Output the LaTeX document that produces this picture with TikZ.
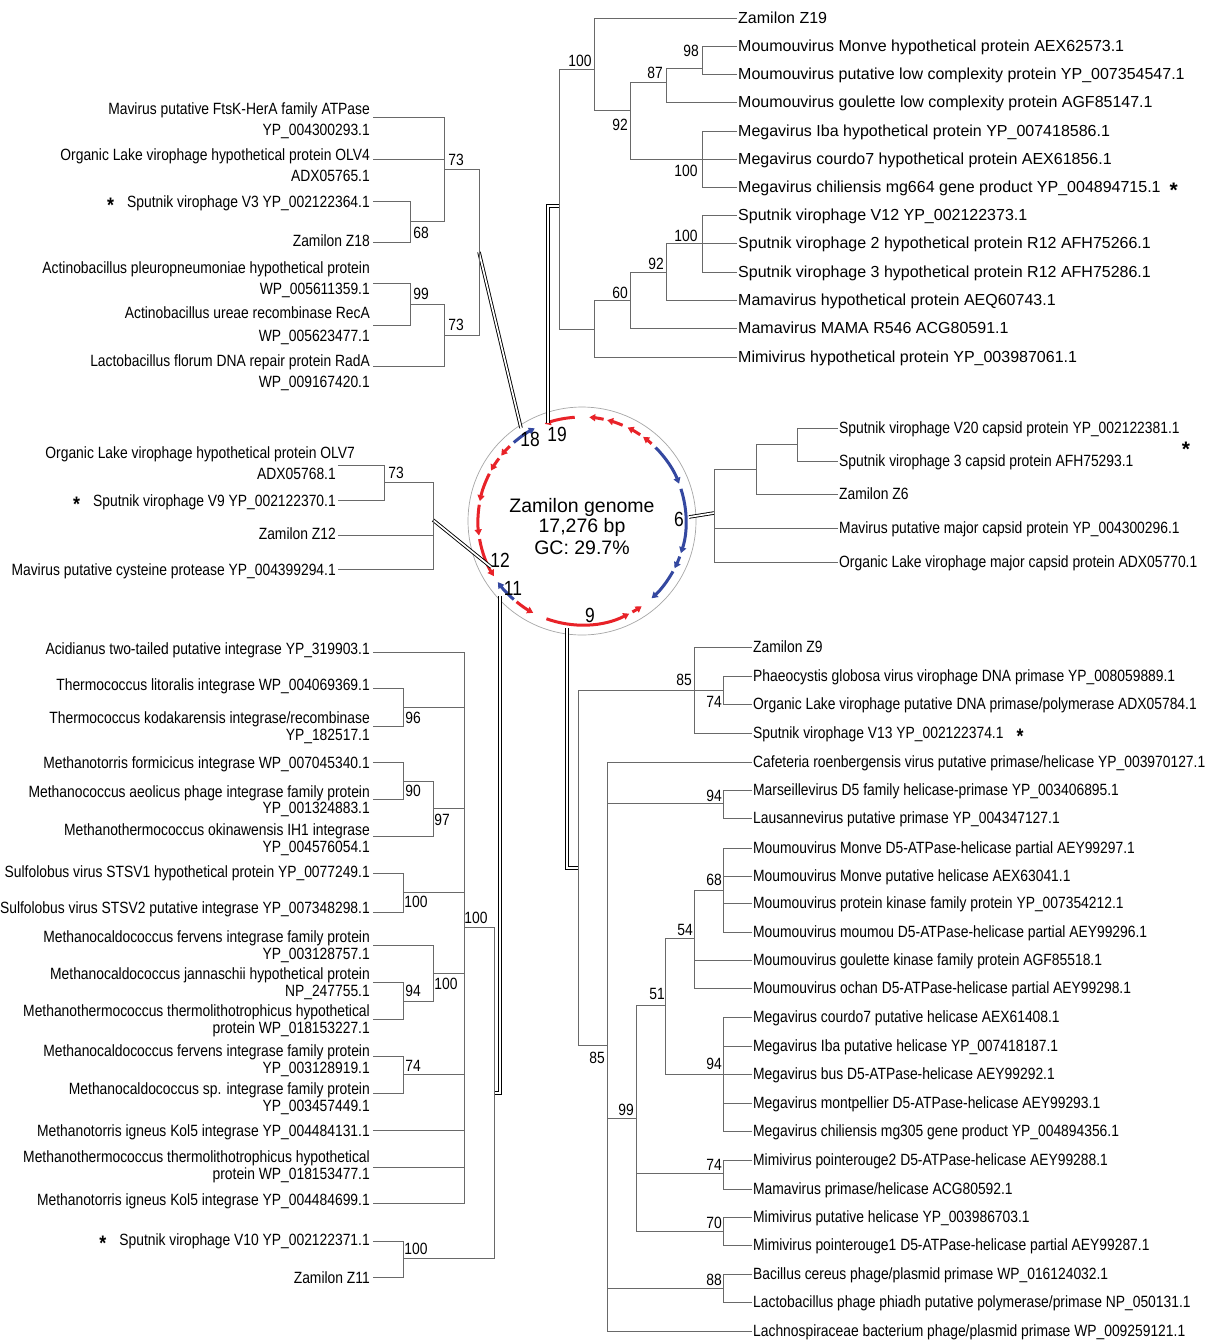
\documentclass[tikz,border=0pt]{standalone}
\usepackage{fontspec}
\setmainfont{Liberation Sans}
\newfontfamily\nar[FakeStretch=0.85]{Liberation Sans}
\usetikzlibrary{arrows.meta}
\definecolor{genred}{RGB}{232,34,40}
\definecolor{geneblue}{RGB}{52,72,160}
\definecolor{branch}{RGB}{105,105,105}
% tree branch helpers: horizontal (x1,x2 at y) and vertical (x, y1..y2)
\newcommand\brH[3]{\draw[br] (#1,#3) -- (#2,#3);}
\newcommand\brV[3]{\draw[br] (#1,#2) -- (#1,#3);}
\newcommand\sstar{\raisebox{-5pt}{\fontsize{21}{21}\selectfont\bfseries *}}
\begin{document}
\begin{tikzpicture}[x=1pt,y=-1pt,
  br/.style={draw=branch, line width=1pt, line cap=rect},
  dbl/.style={draw=black, line width=0.9pt, double=white, double distance=1.7pt},
  lab/.style={font=\nar\fontsize{16.3}{18}\selectfont, inner xsep=2pt, inner ysep=0pt,
              text height=11.7pt, text depth=0pt},
  trl/.style={font=\fontsize{16}{18}\selectfont, inner xsep=2pt, inner ysep=0pt,
              text height=11.5pt, text depth=0pt},
  bs/.style={font=\nar\fontsize{16.3}{18}\selectfont, inner sep=0pt},
  cnum/.style={font=\nar\fontsize{20.5}{22}\selectfont, inner sep=0pt},
  ctr/.style={font=\fontsize{19.5}{21}\selectfont, inner sep=0pt},
  ring/.style={draw=black!35, line width=0.7pt},
  gr/.style={draw=genred, line width=3pt, -{Triangle[length=6pt,width=7pt]}},
  gb/.style={draw=geneblue, line width=3pt, -{Triangle[length=6pt,width=7pt]}}]
\useasboundingbox (0,0) rectangle (1211,1342);
\fill[white] (0,0) rectangle (1211,1342);

% ---------------- genome map ----------------
\begin{scope}[shift={(582,521)}, y=1pt]
  \draw[ring] (0,0) circle[radius=114];
  \draw[gb] (131:104) arc[start angle=131, end angle=117, radius=104];
  \draw[gr] (94:104) arc[start angle=94, end angle=111, radius=104];
  \draw[gr] (78:104) arc[start angle=78, end angle=86, radius=104];
  \draw[gr] (67:104) arc[start angle=67, end angle=76, radius=104];
  \draw[gr] (56:104) arc[start angle=56, end angle=64, radius=104];
  \draw[gr] (48:104) arc[start angle=48, end angle=54, radius=104];
  \draw[gb] (45:104) arc[start angle=45, end angle=21, radius=104];
  \draw[gb] (18:104) arc[start angle=18, end angle=-18, radius=104];
  \draw[gb] (-20:104) arc[start angle=-20, end angle=-27, radius=104];
  \draw[gb] (-29:104) arc[start angle=-29, end angle=-48, radius=104];
  \draw[gr] (-61:104) arc[start angle=-61, end angle=-55, radius=104];
  \draw[gr] (-110:104) arc[start angle=-110, end angle=-63, radius=104];
  \draw[gr] (-129:104) arc[start angle=-129, end angle=-118, radius=104];
  \draw[gb] (-131:104) arc[start angle=-131, end angle=-144, radius=104];
  \draw[gr] (190:104) arc[start angle=190, end angle=212, radius=104];
  \draw[gr] (171:104) arc[start angle=171, end angle=188, radius=104];
  \draw[gr] (153:104) arc[start angle=153, end angle=169, radius=104];
  \draw[gr] (143:104) arc[start angle=143, end angle=151, radius=104];
  \draw[gr] (134:104) arc[start angle=134, end angle=141, radius=104];
\end{scope}
\node[ctr, anchor=base] (g1) at (582,512) {Zamilon genome};
\node[ctr, anchor=base] (g2) at (582,532) {17,276 bp};
\node[ctr, anchor=base] (g3) at (582,554) {GC: 29.7\%};
\node[cnum] (n18) at (530,439) {18};
\node[cnum] (n19) at (557,434) {19};
\node[cnum] (n6) at (679,519) {6};
\node[cnum] (n12) at (500,560) {12};
\node[cnum] (n11) at (513,588) {11};
\node[cnum] (n9) at (590,615) {9};

% connector ends on the map and on the tree roots
\coordinate (cTL) at (521,428); \coordinate (rTL) at (479,252);
\coordinate (cTR) at (548,423); \coordinate (rTR) at (559,206);
\coordinate (cML) at (491,567); \coordinate (rML) at (433,520);
\coordinate (cMR) at (689,517); \coordinate (rMR) at (714,513);
\coordinate (cBL) at (500,596); \coordinate (rBL) at (494,1093);
\coordinate (cBR) at (567,628); \coordinate (rBR) at (578,868);
\draw[dbl] (rTL) -- (cTL);
\draw[dbl] (cTR) |- (rTR);
\draw[dbl] (rML) -- (cML);
\draw[dbl] (rMR) -- (cMR);
\draw[dbl] (cBL) |- (rBL);
\draw[dbl] (cBR) |- (rBR);

% ---------------- Z19 tree (top right) ----------------
\node[trl, anchor=west] (t01) at (736,18) {Zamilon Z19};
\node[trl, anchor=west] (t02) at (736,46) {Moumouvirus Monve hypothetical protein AEX62573.1};
\node[trl, anchor=west] (t03) at (736,74) {Moumouvirus putative low complexity protein YP\_007354547.1};
\node[trl, anchor=west] (t04) at (736,102) {Moumouvirus goulette low complexity protein AGF85147.1};
\node[trl, anchor=west] (t05) at (736,131) {Megavirus Iba hypothetical protein YP\_007418586.1};
\node[trl, anchor=west] (t06) at (736,159) {Megavirus courdo7 hypothetical protein AEX61856.1};
\node[trl, anchor=west] (t07) at (736,187) {Megavirus chiliensis mg664 gene product YP\_004894715.1\hspace{9pt}\sstar};
\node[trl, anchor=west] (t08) at (736,215) {Sputnik virophage V12 YP\_002122373.1};
\node[trl, anchor=west] (t09) at (736,243) {Sputnik virophage 2 hypothetical protein R12 AFH75266.1};
\node[trl, anchor=west] (t10) at (736,272) {Sputnik virophage 3 hypothetical protein R12 AFH75286.1};
\node[trl, anchor=west] (t11) at (736,300) {Mamavirus hypothetical protein AEQ60743.1};
\node[trl, anchor=west] (t12) at (736,328) {Mamavirus MAMA R546 ACG80591.1};
\node[trl, anchor=west] (t13) at (736,357) {Mimivirus hypothetical protein YP\_003987061.1};
\brV{559}{69}{329} \brH{559}{594}{69} \brH{559}{594}{329}
\brV{594}{18}{110} \draw[br] (594,18) -- (t01.west); \brH{594}{630}{110}
\brV{630}{82}{159} \brH{630}{666}{82} \brH{630}{702}{159}
\brV{666}{68}{102} \brH{666}{702}{68} \draw[br] (666,102) -- (t04.west);
\brV{702}{46}{74} \draw[br] (702,46) -- (t02.west); \draw[br] (702,74) -- (t03.west);
\brV{702}{131}{187} \draw[br] (702,131) -- (t05.west); \draw[br] (702,159) -- (t06.west); \draw[br] (702,187) -- (t07.west);
\brV{594}{300}{357} \brH{594}{630}{300} \draw[br] (594,357) -- (t13.west);
\brV{630}{272}{328} \brH{630}{666}{272} \draw[br] (630,328) -- (t12.west);
\brV{666}{243}{300} \brH{666}{702}{243} \draw[br] (666,300) -- (t11.west);
\brV{702}{215}{272} \draw[br] (702,215) -- (t08.west); \draw[br] (702,243) -- (t09.west); \draw[br] (702,272) -- (t10.west);
\node[bs] (b01) at (580,61) {100};
\node[bs] (b02) at (620,125) {92};
\node[bs] (b03) at (655,73) {87};
\node[bs] (b04) at (691,51) {98};
\node[bs] (b05) at (686,171) {100};
\node[bs] (b06) at (686,236) {100};
\node[bs] (b07) at (656,264) {92};
\node[bs] (b08) at (620,293) {60};

% ---------------- Z18 tree (top left) ----------------
\node[lab, anchor=east] (l01) at (372,109) {Mavirus putative FtsK-HerA family ATPase};
\node[lab, anchor=east] (l01b) at (372,130) {YP\_004300293.1};
\node[lab, anchor=east] (l02) at (372,155) {Organic Lake virophage hypothetical protein OLV4};
\node[lab, anchor=east] (l02b) at (372,176) {ADX05765.1};
\node[lab, anchor=east] (l03) at (372,202) {\sstar\hspace{13pt}Sputnik virophage V3 YP\_002122364.1};
\node[lab, anchor=east] (l04) at (372,241) {Zamilon Z18};
\node[lab, anchor=east] (l05) at (372,268) {Actinobacillus pleuropneumoniae hypothetical protein};
\node[lab, anchor=east] (l05b) at (372,289) {WP\_005611359.1};
\node[lab, anchor=east] (l06) at (372,313) {Actinobacillus ureae recombinase RecA};
\node[lab, anchor=east] (l06b) at (372,336) {WP\_005623477.1};
\node[lab, anchor=east] (l07) at (372,361) {Lactobacillus florum DNA repair protein RadA};
\node[lab, anchor=east] (l07b) at (372,382) {WP\_009167420.1};
\brV{444}{117}{221} \brH{373}{444}{117} \brH{373}{444}{159}
\brV{410}{201}{242} \brH{373}{410}{201} \brH{373}{410}{242} \brH{410}{444}{221}
\brV{410}{283}{325} \brH{373}{410}{283} \brH{373}{410}{325} \brH{410}{444}{304}
\brV{444}{304}{366} \brH{373}{444}{366}
\brH{444}{479}{169} \brH{444}{479}{335} \brV{479}{169}{335}
\node[bs] (b09) at (456,160) {73};
\node[bs] (b10) at (421,233) {68};
\node[bs] (b11) at (421,294) {99};
\node[bs] (b12) at (456,325) {73};

% ---------------- Z12 tree (middle left) ----------------
\node[lab, anchor=east] (m01) at (357,453) {Organic Lake virophage hypothetical protein OLV7};
\node[lab, anchor=east] (m01b) at (338,474) {ADX05768.1};
\node[lab, anchor=east] (m02) at (338,501) {\sstar\hspace{13pt}Sputnik virophage V9 YP\_002122370.1};
\node[lab, anchor=east] (m03) at (338,534) {Zamilon Z12};
\node[lab, anchor=east] (m04) at (338,570) {Mavirus putative cysteine protease YP\_004399294.1};
\brV{384}{465}{500} \brH{338}{384}{465} \brH{338}{384}{500} \brH{384}{433}{482}
\brH{338}{433}{535} \brH{338}{433}{569} \brV{433}{482}{569}
\node[bs] (b13) at (396,473) {73};

% ---------------- Z6 tree (middle right) ----------------
\node[lab, anchor=west] (r01) at (837,428) {Sputnik virophage V20 capsid protein YP\_002122381.1};
\node[lab, anchor=west] (r02) at (837,461) {Sputnik virophage 3 capsid protein AFH75293.1};
\node[lab, anchor=west] (r03) at (837,494) {Zamilon Z6};
\node[lab, anchor=west] (r04) at (837,528) {Mavirus putative major capsid protein YP\_004300296.1};
\node[lab, anchor=west] (r05) at (837,562) {Organic Lake virophage major capsid protein ADX05770.1};
\node[trl, inner sep=0pt, text height=, text depth=] (rst) at (1186,449) {\sstar};
\brV{797}{428}{461} \draw[br] (797,428) -- (r01.west); \draw[br] (797,461) -- (r02.west);
\brH{756}{797}{444} \brV{756}{444}{494} \draw[br] (756,494) -- (r03.west);
\brH{714}{756}{469} \brV{714}{469}{562} \draw[br] (714,528) -- (r04.west); \draw[br] (714,562) -- (r05.west);

% ---------------- Z11 tree (bottom left) ----------------
\node[lab, anchor=east] (s01) at (372,649) {Acidianus two-tailed putative integrase YP\_319903.1};
\node[lab, anchor=east] (s02) at (372,685) {Thermococcus litoralis integrase WP\_004069369.1};
\node[lab, anchor=east] (s03) at (372,718) {Thermococcus kodakarensis integrase/recombinase};
\node[lab, anchor=east] (s03b) at (372,735) {YP\_182517.1};
\node[lab, anchor=east] (s04) at (372,763) {Methanotorris formicicus integrase WP\_007045340.1};
\node[lab, anchor=east] (s05) at (372,792) {Methanococcus aeolicus phage integrase family protein};
\node[lab, anchor=east] (s05b) at (372,808) {YP\_001324883.1};
\node[lab, anchor=east] (s06) at (372,830) {Methanothermococcus okinawensis IH1 integrase};
\node[lab, anchor=east] (s06b) at (372,847) {YP\_004576054.1};
\node[lab, anchor=east] (s07) at (372,872) {Sulfolobus virus STSV1 hypothetical protein YP\_0077249.1};
\node[lab, anchor=east] (s08) at (372,908) {Sulfolobus virus STSV2 putative integrase YP\_007348298.1};
\node[lab, anchor=east] (s09) at (372,937) {Methanocaldococcus fervens integrase family protein};
\node[lab, anchor=east] (s09b) at (372,954) {YP\_003128757.1};
\node[lab, anchor=east] (s10) at (372,974) {Methanocaldococcus jannaschii hypothetical protein};
\node[lab, anchor=east] (s10b) at (372,991) {NP\_247755.1};
\node[lab, anchor=east] (s11) at (372,1011) {Methanothermococcus thermolithotrophicus hypothetical};
\node[lab, anchor=east] (s11b) at (372,1028) {protein WP\_018153227.1};
\node[lab, anchor=east] (s12) at (372,1051) {Methanocaldococcus fervens integrase family protein};
\node[lab, anchor=east] (s12b) at (372,1068) {YP\_003128919.1};
\node[lab, anchor=east] (s13) at (372,1089) {Methanocaldococcus sp. integrase family protein};
\node[lab, anchor=east] (s13b) at (372,1106) {YP\_003457449.1};
\node[lab, anchor=east] (s14) at (372,1131) {Methanotorris igneus Kol5 integrase YP\_004484131.1};
\node[lab, anchor=east] (s15) at (372,1157) {Methanothermococcus thermolithotrophicus hypothetical};
\node[lab, anchor=east] (s15b) at (372,1174) {protein WP\_018153477.1};
\node[lab, anchor=east] (s16) at (372,1200) {Methanotorris igneus Kol5 integrase YP\_004484699.1};
\node[lab, anchor=east] (s17) at (372,1240) {\sstar\hspace{13pt}Sputnik virophage V10 YP\_002122371.1};
\node[lab, anchor=east] (s18) at (372,1278) {Zamilon Z11};
\brV{464}{652}{1203}
\brH{373}{464}{652} \brH{373}{464}{1130} \brH{373}{464}{1167} \brH{373}{464}{1203}
\brV{403}{688}{726} \brH{373}{403}{688} \brH{373}{403}{726} \brH{403}{464}{707}
\brV{403}{762}{799} \brH{373}{403}{762} \brH{373}{403}{799} \brH{403}{433}{781}
\brV{433}{781}{836} \brH{373}{433}{836} \brH{433}{464}{808}
\brV{403}{873}{912} \brH{373}{403}{873} \brH{373}{403}{912} \brH{403}{464}{892}
\brV{433}{945}{1001} \brH{373}{433}{945} \brH{433}{464}{973}
\brV{403}{982}{1019} \brH{373}{403}{982} \brH{373}{403}{1019} \brH{403}{433}{1001}
\brV{403}{1056}{1093} \brH{373}{403}{1056} \brH{373}{403}{1093} \brH{403}{464}{1074}
\brH{464}{494}{927}
\brV{403}{1241}{1277} \brH{373}{403}{1241} \brH{373}{403}{1277} \brH{403}{494}{1258}
\brV{494}{927}{1258}
\node[bs] (b14) at (413,718) {96};
\node[bs] (b15) at (413,791) {90};
\node[bs] (b16) at (442,820) {97};
\node[bs] (b17) at (416,902) {100};
\node[bs] (b18) at (476,918) {100};
\node[bs] (b19) at (446,984) {100};
\node[bs] (b20) at (413,991) {94};
\node[bs] (b21) at (413,1066) {74};
\node[bs] (b22) at (416,1249) {100};

% ---------------- Z9 tree (bottom right) ----------------
\node[lab, anchor=west] (u01) at (751,647) {Zamilon Z9};
\node[lab, anchor=west] (u02) at (751,676) {Phaeocystis globosa virus virophage DNA primase YP\_008059889.1};
\node[lab, anchor=west] (u03) at (751,704) {Organic Lake virophage putative DNA primase/polymerase ADX05784.1};
\node[lab, anchor=west] (u04) at (751,733) {Sputnik virophage V13 YP\_002122374.1\hspace{13pt}\sstar};
\node[lab, anchor=west] (u05) at (751,762) {Cafeteria roenbergensis virus putative primase/helicase YP\_003970127.1};
\node[lab, anchor=west] (u06) at (751,790) {Marseillevirus D5 family helicase-primase YP\_003406895.1};
\node[lab, anchor=west] (u07) at (751,818) {Lausannevirus putative primase YP\_004347127.1};
\node[lab, anchor=west] (u08) at (751,848) {Moumouvirus Monve D5-ATPase-helicase partial AEY99297.1};
\node[lab, anchor=west] (u09) at (751,876) {Moumouvirus Monve putative helicase AEX63041.1};
\node[lab, anchor=west] (u10) at (751,903) {Moumouvirus protein kinase family protein YP\_007354212.1};
\node[lab, anchor=west] (u11) at (751,932) {Moumouvirus moumou D5-ATPase-helicase partial AEY99296.1};
\node[lab, anchor=west] (u12) at (751,960) {Moumouvirus goulette kinase family protein AGF85518.1};
\node[lab, anchor=west] (u13) at (751,988) {Moumouvirus ochan D5-ATPase-helicase partial AEY99298.1};
\node[lab, anchor=west] (u14) at (751,1017) {Megavirus courdo7 putative helicase AEX61408.1};
\node[lab, anchor=west] (u15) at (751,1046) {Megavirus Iba putative helicase YP\_007418187.1};
\node[lab, anchor=west] (u16) at (751,1074) {Megavirus bus D5-ATPase-helicase AEY99292.1};
\node[lab, anchor=west] (u17) at (751,1103) {Megavirus montpellier D5-ATPase-helicase AEY99293.1};
\node[lab, anchor=west] (u18) at (751,1131) {Megavirus chiliensis mg305 gene product YP\_004894356.1};
\node[lab, anchor=west] (u19) at (751,1160) {Mimivirus pointerouge2 D5-ATPase-helicase AEY99288.1};
\node[lab, anchor=west] (u20) at (751,1189) {Mamavirus primase/helicase ACG80592.1};
\node[lab, anchor=west] (u21) at (751,1217) {Mimivirus putative helicase YP\_003986703.1};
\node[lab, anchor=west] (u22) at (751,1245) {Mimivirus pointerouge1 D5-ATPase-helicase partial AEY99287.1};
\node[lab, anchor=west] (u23) at (751,1274) {Bacillus cereus phage/plasmid primase WP\_016124032.1};
\node[lab, anchor=west] (u24) at (751,1302) {Lactobacillus phage phiadh putative polymerase/primase NP\_050131.1};
\node[lab, anchor=west] (u25) at (751,1331) {Lachnospiraceae bacterium phage/plasmid primase WP\_009259121.1};
\brV{694}{647}{733} \draw[br] (694,647) -- (u01.west); \draw[br] (694,733) -- (u04.west);
\brV{723}{676}{704} \draw[br] (723,676) -- (u02.west); \draw[br] (723,704) -- (u03.west);
\brH{578}{723}{690}
\brV{578}{690}{1045} \brH{578}{607}{1045}
\brV{607}{762}{1331}
\draw[br] (607,762) -- (u05.west); \draw[br] (607,1331) -- (u25.west);
\brV{723}{790}{818} \draw[br] (723,790) -- (u06.west); \draw[br] (723,818) -- (u07.west); \brH{607}{723}{803}
\brH{607}{636}{1118} \brV{636}{1005}{1231}
\brH{636}{665}{1005} \brV{665}{938}{1074}
\brH{665}{694}{938} \brV{694}{890}{988}
\brH{694}{723}{890} \brV{723}{848}{932}
\draw[br] (723,848) -- (u08.west); \draw[br] (723,876) -- (u09.west);
\draw[br] (723,903) -- (u10.west); \draw[br] (723,932) -- (u11.west);
\draw[br] (694,960) -- (u12.west); \draw[br] (694,988) -- (u13.west);
\brH{665}{723}{1074} \brV{723}{1017}{1131}
\draw[br] (723,1017) -- (u14.west); \draw[br] (723,1046) -- (u15.west);
\draw[br] (723,1074) -- (u16.west); \draw[br] (723,1103) -- (u17.west);
\draw[br] (723,1131) -- (u18.west);
\brH{636}{723}{1173} \brV{723}{1160}{1189}
\draw[br] (723,1160) -- (u19.west); \draw[br] (723,1189) -- (u20.west);
\brH{636}{723}{1231} \brV{723}{1217}{1245}
\draw[br] (723,1217) -- (u21.west); \draw[br] (723,1245) -- (u22.west);
\brH{607}{723}{1288} \brV{723}{1274}{1302}
\draw[br] (723,1274) -- (u23.west); \draw[br] (723,1302) -- (u24.west);
\node[bs] (b23) at (684,680) {85};
\node[bs] (b24) at (714,702) {74};
\node[bs] (b25) at (714,796) {94};
\node[bs] (b26) at (714,880) {68};
\node[bs] (b27) at (685,930) {54};
\node[bs] (b28) at (657,994) {51};
\node[bs] (b29) at (597,1058) {85};
\node[bs] (b30) at (714,1064) {94};
\node[bs] (b31) at (626,1110) {99};
\node[bs] (b32) at (714,1165) {74};
\node[bs] (b33) at (714,1223) {70};
\node[bs] (b34) at (714,1280) {88};
\end{tikzpicture}
\end{document}
